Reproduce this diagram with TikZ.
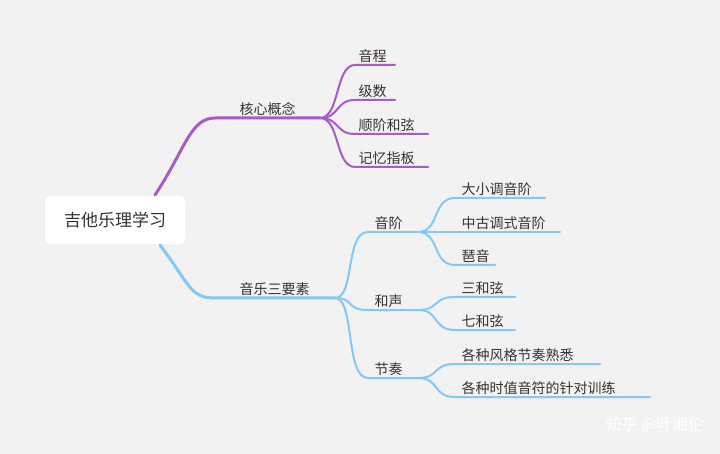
\documentclass[tikz,border=0pt]{standalone}
\usepackage{fontspec}
\setmainfont{Noto Sans CJK SC}
\usetikzlibrary{positioning,calc}

\definecolor{bgcol}{HTML}{F2F2F2}
\definecolor{purp}{HTML}{A75BC4}
\definecolor{sky}{HTML}{84C8F5}
\definecolor{txt}{HTML}{333333}

\begin{document}
\begin{tikzpicture}[x=1pt,y=-1pt,
    every node/.style={font=\fontsize{14}{16}\selectfont,text=txt},
    lbl/.style={anchor=south west,inner sep=2.5pt},
    purline/.style={purp,line width=3pt,line cap=round},
    bluline/.style={sky,line width=3pt,line cap=round},
    purthin/.style={purp,line width=2pt,line cap=round},
    bluthin/.style={sky,line width=2pt,line cap=round}]
  \fill[bgcol] (0,0) rectangle (720,454);
  \useasboundingbox (0,0) rectangle (720,454);

  % root
  \node[fill=white,rounded corners=5pt,minimum width=140pt,minimum height=48pt,
    font=\fontsize{17}{20}\selectfont] (ROOT) at (115,220) {吉他乐理学习};

  % core concepts
  \coordinate (COREa) at (215,118);
  \coordinate (COREb) at (320,118);
  \node[lbl] (CORE) at (237,118) {核心概念};
  \draw[purline] (155,195) .. controls (185,150) and (190,118) .. (COREa) -- (COREb);
  \foreach \name/\y/\len in {音程/65/395, 级数/100/395, 顺阶和弦/134/428, 记忆指板/167/428}{
    \draw[purthin] (COREb) .. controls (340,118) and (335,\y) .. (355,\y) -- (\len,\y);
    \node[lbl] at (356,\y) {\name};
  }

  % three elements
  \coordinate (ELEMa) at (215,298);
  \coordinate (ELEMb) at (335,298);
  \node[lbl] (ELEM) at (237,298) {音乐三要素};
  \draw[bluline] (160,245) .. controls (190,285) and (190,298) .. (ELEMa) -- (ELEMb);
  \foreach \name/\y in {音阶/232, 和声/310, 节奏/378}{
    \draw[bluthin] (ELEMb) .. controls (355,298) and (345,\y) .. (368,\y) -- (418,\y);
    \node[lbl] at (372,\y) {\name};
  }
  \foreach \py/\name/\y/\len in {232/大小调音阶/198/545, 232/中古调式音阶/232/560, 232/琶音/265/495,
      310/三和弦/297/515, 310/七和弦/330/515,
      378/各种风格节奏熟悉/364/600, 378/各种时值音符的针对训练/397/650}{
    \draw[bluthin] (418,\py) .. controls (440,\py) and (432,\y) .. (455,\y) -- (\len,\y);
    \node[lbl] at (459,\y) {\name};
  }

  % watermark
  \node[text=white,font=\fontsize{16}{18}\selectfont,anchor=east] (MARK) at (708,425) {知乎 @叶湘伦};
\end{tikzpicture}
\end{document}
